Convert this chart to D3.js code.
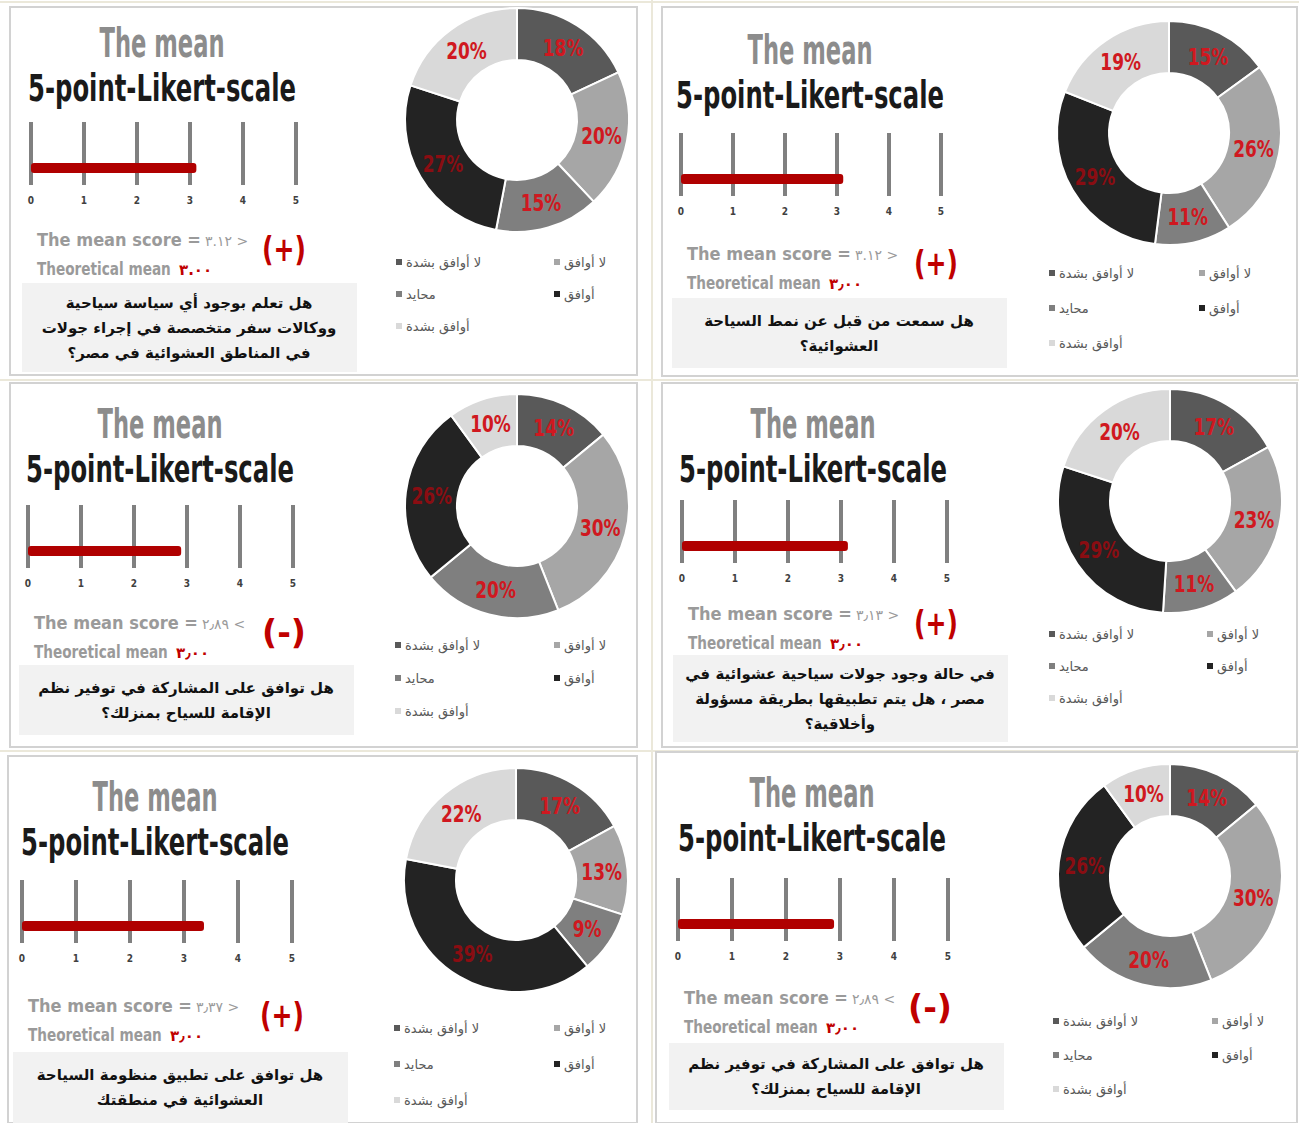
<!DOCTYPE html>
<html>
<head>
<meta charset="utf-8">
<script src="https://cdn.jsdelivr.net/npm/d3@7"></script>
<style>
  body { margin: 0; background: #fff; }
  svg { display: block; }
</style>
</head>
<body>
<div id="chart"></div>
<script>
// answer categories and their slice colours
var categories = ["لا أوافق بشدة", "لا أوافق", "محايد", "أوافق", "أوافق بشدة"];
var shares = [
  [18, 20, 15, 27, 20],
  [15, 26, 11, 29, 19],
  [14, 30, 20, 26, 10],
  [17, 23, 11, 29, 20],
  [17, 13, 9, 39, 22],
  [14, 30, 20, 26, 10]
];
var means = [3.12, 3.12, 2.89, 3.13, 3.37, 2.89];
var meanLabels = ["٣.١٢", "٣.١٢", "٢٫٨٩", "٣٫١٣", "٣٫٣٧", "٢٫٨٩"];
var theoLabels = ["٣.٠٠", "٣٫٠٠", "٣٫٠٠", "٣٫٠٠", "٣٫٠٠", "٣٫٠٠"];
var scaleTicks = [0, 1, 2, 3, 4, 5];
var questions = [
  ["هل تعلم بوجود  أي سياسة سياحية", "ووكالات سفر متخصصة في إجراء جولات", "في المناطق العشوائية في مصر؟"],
  ["هل سمعت من قبل عن نمط السياحة", "العشوائية؟"],
  ["هل توافق على المشاركة في توفير نظم", "الإقامة للسياح بمنزلك؟"],
  ["في حالة وجود جولات سياحية عشوائية في", "مصر ، هل يتم تطبيقها بطريقة مسؤولة", "وأخلاقية؟"],
  ["هل توافق على تطبيق منظومة السياحة", "العشوائية في منطقتك"],
  ["هل توافق على المشاركة في توفير نظم", "الإقامة للسياح بمنزلك؟"]
];

// panel layout (not data)
var boxes = [
  {x:10,  y:7,   w:627, h:368, tY:50, tX:152, sTop:115, x0:21, step:53, mY:239, bTop:276, bBot:365, cx:507, cy:113, lY:255, lS:32, l1:389, l2:547},
  {x:662, y:7,   w:635, h:369, tY:57, tX:148, sTop:126, x0:19, step:52, mY:253, bTop:291, bBot:361, cx:507, cy:126, lY:266, lS:35, l1:390, l2:540},
  {x:10,  y:383, w:627, h:364, tY:55, tX:150, sTop:122, x0:18, step:53, mY:246, bTop:282, bBot:352, cx:507, cy:123, lY:262, lS:33, l1:388, l2:547},
  {x:662, y:383, w:635, h:364, tY:55, tX:151, sTop:117, x0:20, step:53, mY:237, bTop:272, bBot:359, cx:508, cy:118, lY:251, lS:32, l1:390, l2:548},
  {x:8,   y:756, w:629, h:367, tY:55, tX:147, sTop:124, x0:14, step:54, mY:256, bTop:296, bBot:367, cx:508, cy:124, lY:272, lS:36, l1:389, l2:549},
  {x:656, y:752, w:641, h:371, tY:55, tX:156, sTop:126, x0:22, step:54, mY:252, bTop:291, bBot:358, cx:514, cy:124, lY:269, lS:34, l1:400, l2:559}
];

var W = 1299, H = 1123;
var colors = d3.scaleOrdinal().domain(categories)
  .range(["#595959", "#a6a6a6", "#7f7f7f", "#232323", "#d9d9d9"]);
var condensed = "'Liberation Sans Narrow', 'DejaVu Sans Condensed', 'Liberation Sans', sans-serif";
var arabic = "'DejaVu Sans', 'Noto Sans', sans-serif";

var svg = d3.select("#chart").append("svg").attr("width", W).attr("height", H);
svg.append("rect").attr("width", W).attr("height", H).attr("fill", "#fff");

// beige grid lines between cells
var sep = svg.append("g").attr("stroke", "#ebe8da").attr("stroke-width", 2);
sep.append("line").attr("x1", 0).attr("x2", W).attr("y1", 2).attr("y2", 2);
sep.append("line").attr("x1", 0).attr("x2", W).attr("y1", 380).attr("y2", 380);
sep.append("line").attr("x1", 0).attr("x2", W).attr("y1", 751).attr("y2", 751);
sep.append("line").attr("x1", 652).attr("x2", 652).attr("y1", 0).attr("y2", H);

var pie = d3.pie().sort(null).value(function (d) { return d; });
var arc = d3.arc().innerRadius(60).outerRadius(112);
var labelArc = d3.arc().innerRadius(86).outerRadius(86);

// squeeze a text horizontally to a target width
function squeeze(sel, x, y, width) {
  var natural = sel.node().getComputedTextLength();
  sel.attr("transform", "translate(" + x + "," + y + ") scale(" + (width / natural) + ",1)");
}

boxes.forEach(function (b, i) {
  var g = svg.append("g").attr("transform", "translate(" + b.x + "," + b.y + ")");
  g.append("rect").attr("width", b.w).attr("height", b.h)
    .attr("fill", "#fff").attr("stroke", "#d2d2d2").attr("stroke-width", 2);

  // titles
  g.append("text").attr("x", b.tX).attr("y", b.tY)
    .attr("text-anchor", "middle").attr("textLength", 125).attr("lengthAdjust", "spacingAndGlyphs")
    .style("font-family", condensed).style("font-weight", "bold").style("font-size", "40px")
    .attr("fill", "#8c8c8c").text("The mean");
  g.append("text").attr("x", b.tX).attr("y", b.tY + 44)
    .attr("text-anchor", "middle").attr("textLength", 268).attr("lengthAdjust", "spacingAndGlyphs")
    .style("font-family", condensed).style("font-weight", "bold").style("font-size", "37px")
    .attr("fill", "#1a1a1a").text("5-point-Likert-scale");

  // likert scale
  var x = d3.scaleLinear().domain([0, 5]).range([b.x0, b.x0 + 5 * b.step]);
  g.selectAll(".tick").data(scaleTicks).enter().append("rect")
    .attr("x", function (d) { return x(d) - 2; }).attr("y", b.sTop)
    .attr("width", 4).attr("height", 63).attr("fill", "#808080");
  g.append("rect").attr("x", x(0)).attr("y", b.sTop + 41)
    .attr("width", x(means[i]) - x(0)).attr("height", 10).attr("rx", 3)
    .attr("fill", "#b00000");
  g.selectAll(".tl").data(scaleTicks).enter().append("text")
    .attr("x", function (d) { return x(d); }).attr("y", b.sTop + 82)
    .attr("text-anchor", "middle")
    .style("font-family", condensed).style("font-weight", "bold").style("font-size", "10px")
    .attr("fill", "#404040").text(function (d) { return d; });

  // mean score lines
  var pos = means[i] > 3;
  var mx = b.x0 + 6;
  var ms = g.append("text")
    .style("font-family", condensed).style("font-weight", "bold").style("font-size", "18px")
    .attr("fill", "#9a9a9a").text("The mean score =");
  squeeze(ms, mx, b.mY, 164);
  g.append("text").attr("x", mx + 168).attr("y", b.mY)
    .style("font-family", arabic).style("font-size", "14px")
    .attr("fill", "#9a9a9a").text(meanLabels[i] + (pos ? " >" : " <"));
  var tm = g.append("text")
    .style("font-family", condensed).style("font-weight", "bold").style("font-size", "18px")
    .attr("fill", "#9a9a9a").text("Theoretical mean");
  squeeze(tm, mx, b.mY + 29, 134);
  g.append("text").attr("x", mx + 142).attr("y", b.mY + 29)
    .style("font-family", arabic).style("font-weight", "bold").style("font-size", "15px")
    .attr("fill", "#c00000").text(theoLabels[i]);
  var sg = g.append("text").attr("text-anchor", "middle")
    .style("font-family", "'DejaVu Sans', sans-serif").style("font-weight", "bold").style("font-size", "34px")
    .attr("fill", "#c00000").text(pos ? "(+)" : "(-)");
  sg.attr("transform", "translate(274," + (b.mY + 15) + ") scale(" + (44 / sg.node().getComputedTextLength()) + ",1)");

  // question box
  g.append("rect").attr("x", b.x0 - 9).attr("y", b.bTop)
    .attr("width", 335).attr("height", b.bBot - b.bTop).attr("fill", "#f2f2f2");
  var lines = questions[i];
  var mid = (b.bTop + b.bBot) / 2;
  g.selectAll(".q").data(lines).enter().append("text")
    .attr("x", b.x0 - 9 + 167)
    .attr("y", function (d, k) { return mid + (k - (lines.length - 1) / 2) * 25; })
    .attr("dy", "0.35em").attr("text-anchor", "middle").attr("direction", "rtl")
    .style("font-family", arabic).style("font-weight", "bold").style("font-size", "15px")
    .attr("fill", "#111").text(function (d) { return d; });

  // donut
  var dg = g.append("g").attr("transform", "translate(" + b.cx + "," + b.cy + ")");
  var arcs = pie(shares[i]);
  dg.selectAll("path").data(arcs).enter().append("path")
    .attr("d", arc).attr("fill", function (d, k) { return colors(categories[k]); })
    .attr("stroke", "#fff").attr("stroke-width", 2);
  dg.selectAll(".pl").data(arcs).enter().append("text")
    .attr("transform", function (d) { return "translate(" + labelArc.centroid(d) + ") scale(0.82,1)"; })
    .attr("text-anchor", "middle").attr("dy", "0.36em")
    .style("font-family", condensed).style("font-weight", "bold").style("font-size", "23px")
    .attr("fill", function (d, k) { return k === 3 ? "#8a0d12" : "#d01820"; })
    .text(function (d) { return d.data + "%"; });

  // legend
  var legPos = [[b.l1, 0], [b.l2, 0], [b.l1, 1], [b.l2, 1], [b.l1, 2]];
  var lg = g.selectAll(".lg").data(categories).enter().append("g")
    .attr("transform", function (d, k) {
      return "translate(" + legPos[k][0] + "," + (b.lY + legPos[k][1] * b.lS) + ")";
    });
  lg.append("rect").attr("x", -3).attr("y", -3).attr("width", 6).attr("height", 6)
    .attr("fill", function (d) { return colors(d); });
  lg.append("text").attr("x", 7).attr("dy", "0.35em")
    .style("font-family", arabic).style("font-size", "13px")
    .attr("fill", "#595959").text(function (d) { return d; });
});
</script>
</body>
</html>
